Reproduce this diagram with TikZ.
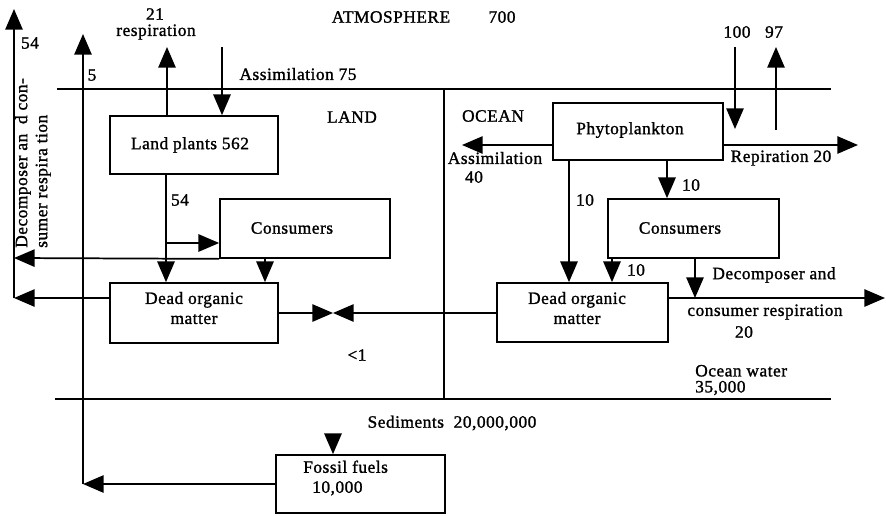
\documentclass[tikz,border=0pt]{standalone}
\usepackage{fontspec}
\setmainfont{Liberation Serif}[LetterSpace=3,FakeBold=1.3]
\usetikzlibrary{arrows.meta}
\begin{document}
\begin{tikzpicture}[x=0.75pt,y=-0.75pt,
  every node/.style={font=\fontsize{13}{15}\selectfont, inner sep=0pt},
  box/.style={draw, line width=1.3pt, inner sep=0pt},
  ln/.style={line width=1.3pt},
  arr/.style={line width=1.3pt, -{Triangle[length=15.5pt,width=13pt]}},
  txt/.style={align=center}]
\useasboundingbox (0,0) rectangle (886,515);

% boundary lines
\coordinate (atmL) at (57,89);   \coordinate (atmR) at (831,89);
\coordinate (botL) at (55,399);  \coordinate (botR) at (831,399);
\coordinate (divT) at (444,89);  \coordinate (divB) at (444,399);
\draw[ln] (atmL) -- (atmR);
\draw[ln] (botL) -- (botR);
\draw[ln] (divT) -- (divB);

% boxes
\node[box, minimum width=126pt,   minimum height=43.5pt]  (lp)    at (194,145)     {};
\node[box, minimum width=127.5pt, minimum height=44.25pt] (lcons) at (305,228.5)   {};
\node[box, minimum width=126pt,   minimum height=45pt]    (ldom)  at (194,313)     {};
\node[box, minimum width=127.5pt, minimum height=42.75pt] (phy)   at (638,131.5)   {};
\node[box, minimum width=128.25pt,minimum height=44.25pt] (ocons) at (693.5,228.5) {};
\node[box, minimum width=128.25pt,minimum height=44.25pt] (odom)  at (582.5,312.5) {};
\node[box, minimum width=126.75pt,minimum height=43.5pt]  (ff)    at (360.5,484)   {};

% box texts
\node[txt] (lpT)    at (190,145) {Land plants 562};
\node[txt] (lconsT) at (292,228) {Consumers};
\node[txt] (ldomT)  at (194,308) {Dead organic\\matter};
\node[txt] (phyT)   at (630,130) {Phytoplankton};
\node[txt] (oconsT) at (680,228) {Consumers};
\node[txt] (odomT)  at (577,308) {Dead organic\\matter};
\node[align=left, anchor=west] (ffT) at (303,478) {Fossil fuels\\\hspace*{6.75pt}10,000};

% coordinates for connectors
\coordinate (Ltop) at (14,9);
\coordinate (L1) at (14,258);
\coordinate (L2) at (14,298);
\coordinate (Ftop) at (83,34);
\coordinate (F1) at (83,484);
\coordinate (resp) at (167,47);
\coordinate (assim) at (222,47);
\coordinate (j1) at (166,243);
\coordinate (c1) at (265,258);
\coordinate (meet) at (333,313);
\coordinate (fin) at (333,437);
\coordinate (pa) at (462,145);
\coordinate (pr) at (858,145);
\coordinate (in100) at (735,47);
\coordinate (out97) at (776,47);
\coordinate (base97) at (776,130);
\coordinate (p1) at (667,160);
\coordinate (p2) at (569,160);
\coordinate (p3) at (612,258);
\coordinate (p4) at (695,258);
\coordinate (orr) at (885,298);

% land connectors
\draw[arr] (lp.north -| resp) -- (resp);
\draw[arr] (assim) -- (assim |- lp.north);
\draw[arr] (j1 |- lp.south) -- (j1 |- ldom.north);
\draw[arr] (j1) -- (j1 -| lcons.west);
\draw[arr] (c1) -- (c1 |- ldom.north);
\draw[arr] (lcons.south west) -- (L1);
\draw[arr] (ldom.west |- L2) -- (L2);
\draw[arr] (L2) -- (Ltop);
\draw[arr] (ff.west |- F1) -- (F1);
\draw[arr] (F1) -- (Ftop);
\draw[arr] (fin) -- (fin |- ff.north);
\draw[arr] (ldom.east |- meet) -- (meet);
\draw[arr] (odom.west |- meet) -- (meet);

% ocean connectors
\draw[arr] (phy.west |- pa) -- (pa);
\draw[arr] (phy.east |- pr) -- (pr);
\draw[arr] (in100) -- (in100 |- 0,129);
\draw[arr] (base97) -- (out97);
\draw[arr] (p1) -- (p1 |- ocons.north);
\draw[arr] (p2) -- (p2 |- odom.north);
\draw[arr] (p3) -- (p3 |- odom.north);
\draw[arr] (p4) -- (p4 |- orr);
\draw[arr] (odom.east |- orr) -- (orr);

% labels
\node (atmT) at (391,17) {ATMOSPHERE};
\node (atmV) at (502,17) {700};
\node (r21) at (155,14) {21};
\node (r21b) at (156,32) {respiration};
\node (l54a) at (30,43) {54};
\node (l5) at (92,75) {5};
\node (assT) at (298,74) {Assimilation 75};
\node (landT) at (352,117) {LAND};
\node (oceanT) at (493,116) {OCEAN};
\node (l54b) at (180,200) {54};
\node (lt1) at (357,355) {<1};
\node (oassT) at (495,158) {Assimilation};
\node (o40) at (474,177) {40};
\node (orespT) at (781,158) {Repiration 20};
\node (o100) at (737,32) {100};
\node (o97) at (774,32) {97};
\node (o10a) at (691,185) {10};
\node (o10b) at (585,200) {10};
\node (o10c) at (636,270) {10};
\node (odecA) at (774,275) {Decomposer and};
\node (odecB) at (765,312) {consumer respiration};
\node (o20) at (744,332) {20};
\node[align=left, anchor=west, font=\fontsize{13}{12}\selectfont] (owat) at (695,380) {Ocean water\\35,000};
\node (sed) at (452,423) {Sediments\ \ 20,000,000};
\node[rotate=90, anchor=west, align=left] (vdec) at (33,248) {Decomposer an\ \ d con-\\sumer respira\ tion};
\end{tikzpicture}
\end{document}
